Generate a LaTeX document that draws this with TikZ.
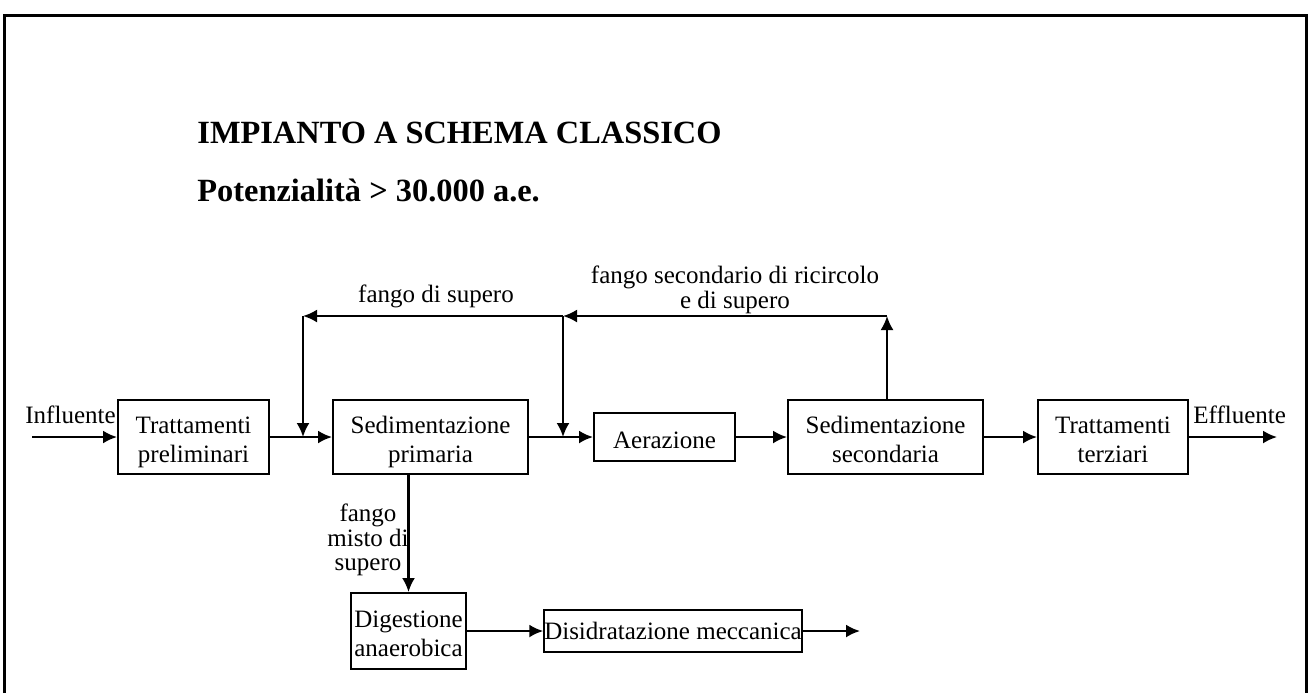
\documentclass[tikz,border=0pt]{standalone}
\usepackage{fontspec}
\setmainfont{Liberation Serif}
\usetikzlibrary{arrows.meta,positioning}
\tikzset{
  unit/.style={draw, line width=1pt, inner sep=0pt, align=center,
    font=\fontsize{12.5}{14.5}\selectfont},
  twoline/.style={text height=27pt, text depth=2pt},
  flow/.style={line width=1.1pt, -{Latex[length=7pt,width=6.5pt]}},
  lbl/.style={inner sep=0pt, align=center, font=\fontsize{12.5}{10}\selectfont},
  heading/.style={anchor=base west, inner sep=0pt, font=\fontsize{16.2}{19}\selectfont\bfseries},
}

\begin{document}
\begin{tikzpicture}[x=0.5pt, y=-0.5pt, >=Latex]
  \useasboundingbox (0,0) rectangle (1309,693);
  % page frame (open at the bottom)
  \draw[line width=1.5pt] (4,693) |- (1306,15) -- (1306,693);
  % headings
  \node[heading] (title) at (197,143) {IMPIANTO A SCHEMA CLASSICO};
  \node[heading] (subtitle) at (197,201) {Potenzialità > 30.000 a.e.};
  % water line
  \node[unit, twoline, minimum width=75.5pt, minimum height=37pt] (prelim) at (193.5,437) {Trattamenti\\preliminari};
  \node[unit, twoline, minimum width=97.5pt, minimum height=37pt] (sedprim) at (430.5,437) {Sedimentazione\\primaria};
  \node[unit, text height=11pt, text depth=0pt, minimum width=70.5pt, minimum height=24pt] (aer) at (664.5,437) {Aerazione};
  \node[unit, twoline, minimum width=97.5pt, minimum height=37pt] (sedsec) at (885.5,437) {Sedimentazione\\secondaria};
  \node[unit, twoline, minimum width=75pt, minimum height=37pt] (terz) at (1113,437) {Trattamenti\\terziari};
  % sludge line
  \node[unit, twoline, minimum width=57.5pt, minimum height=38pt] (dig) at (408.5,631) {Digestione\\anaerobica};
  \node[unit, minimum width=120pt, minimum height=21pt] (disid) at (673,631) {Disidratazione meccanica};
  % loose ends and junctions
  \coordinate (inflow) at (32,437);
  \coordinate (outflow) at (1277,437);
  \coordinate (sludgeout) at (860,631);
  \coordinate (ret) at (887,316);
  \coordinate (jB) at (563,316);
  \coordinate (jA) at (303,316);
  \coordinate (mA) at (303,437);
  \coordinate (mB) at (563,437);
  % labels
  \node[anchor=base west, inner sep=0pt, font=\fontsize{12.5}{14.5}\selectfont] (inlbl) at (25,423) {Influente};
  \node[anchor=base west, inner sep=0pt, font=\fontsize{12.5}{14.5}\selectfont] (outlbl) at (1193,423) {Effluente};
  \node[lbl, anchor=base] (supA) at (436,302) {fango di supero};
  \node[lbl] (supB) at (735,290) {fango secondario di ricircolo\\e di supero};
  \node[lbl, font=\fontsize{12.5}{12.25}\selectfont] (misto) at (368,540) {fango\\misto di\\supero};
  % connectors
  \draw[flow] (inflow) -- (prelim);
  \draw[flow] (prelim) -- (sedprim);
  \draw[flow] (sedprim) -- (aer);
  \draw[flow] (aer) -- (sedsec);
  \draw[flow] (sedsec) -- (terz);
  \draw[flow] (terz) -- (outflow);
  \draw[flow] (sedsec.north -| ret) -- (ret);
  \draw[flow] (ret) -- (jB);
  \draw[flow] (jB) -- (jA);
  \draw[flow] (jA) -- (mA);
  \draw[flow] (jB) -- (mB);
  \draw[flow] (dig.north |- sedprim.south) -- (dig.north);
  \draw[flow] (dig) -- (disid);
  \draw[flow] (disid) -- (sludgeout);
\end{tikzpicture}
\end{document}
